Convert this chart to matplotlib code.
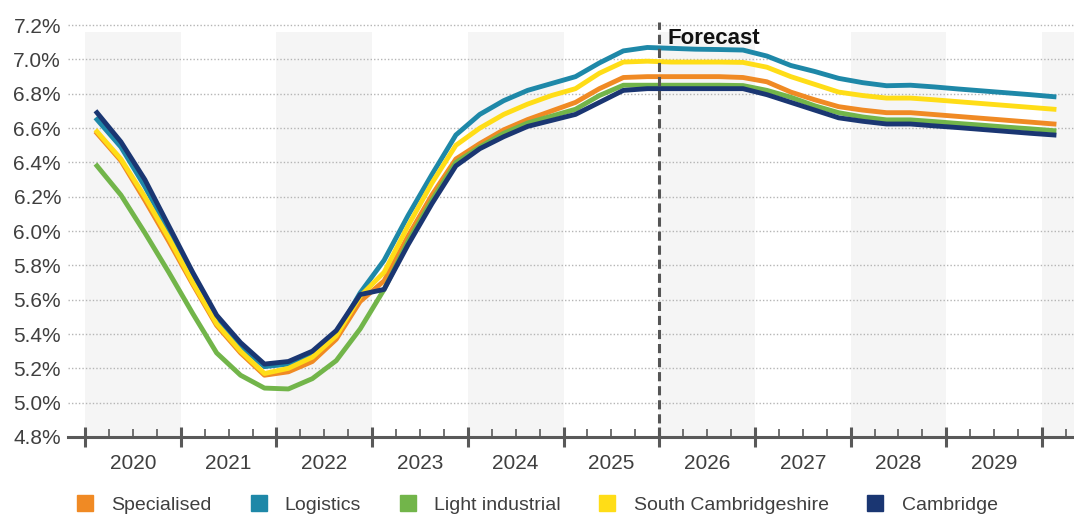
import numpy as np
import matplotlib
matplotlib.use('Agg')
import matplotlib.pyplot as plt
from matplotlib.lines import Line2D

plt.rcParams['font.family'] = ['Liberation Sans', 'DejaVu Sans']

# quarterly points, Q1 2020 .. Q1 2030 (plotted at mid-quarter)
quarters = 2020.125 + np.arange(41) / 4
years = [2020, 2021, 2022, 2023, 2024, 2025, 2026, 2027, 2028, 2029]
forecast_start = 2026

specialised = [6.57, 6.41, 6.18, 5.94, 5.69, 5.45, 5.29, 5.16, 5.18, 5.24, 5.37, 5.59, 5.71,
               5.97, 6.21, 6.42, 6.51, 6.59, 6.65, 6.70, 6.75, 6.83, 6.895, 6.90, 6.90, 6.90,
               6.90, 6.895, 6.87, 6.81, 6.765, 6.725, 6.705, 6.69, 6.69, 6.679, 6.668, 6.657,
               6.646, 6.635, 6.624]
logistics = [6.65, 6.49, 6.26, 6.00, 5.74, 5.49, 5.33, 5.21, 5.225, 5.28, 5.40, 5.64, 5.83,
             6.09, 6.33, 6.56, 6.68, 6.76, 6.82, 6.86, 6.90, 6.98, 7.05, 7.07, 7.065, 7.06,
             7.058, 7.055, 7.02, 6.965, 6.93, 6.89, 6.865, 6.847, 6.85, 6.84, 6.828, 6.817,
             6.806, 6.795, 6.783]
light_industrial = [6.38, 6.21, 5.99, 5.76, 5.52, 5.29, 5.16, 5.085, 5.08, 5.14, 5.245, 5.43, 5.66,
                    5.94, 6.18, 6.40, 6.49, 6.57, 6.63, 6.67, 6.71, 6.79, 6.85, 6.85, 6.85, 6.85,
                    6.85, 6.848, 6.82, 6.78, 6.73, 6.69, 6.665, 6.648, 6.648, 6.638, 6.627, 6.617,
                    6.606, 6.596, 6.585]
south_cambs = [6.58, 6.42, 6.20, 5.96, 5.70, 5.46, 5.30, 5.17, 5.20, 5.265, 5.39, 5.62, 5.76,
               6.03, 6.28, 6.50, 6.60, 6.68, 6.74, 6.79, 6.83, 6.92, 6.985, 6.99, 6.985, 6.985,
               6.985, 6.983, 6.955, 6.90, 6.855, 6.81, 6.79, 6.775, 6.775, 6.765, 6.754, 6.743,
               6.732, 6.721, 6.71]
cambridge = [6.69, 6.52, 6.30, 6.03, 5.76, 5.51, 5.35, 5.225, 5.24, 5.30, 5.42, 5.63, 5.66,
             5.92, 6.16, 6.38, 6.48, 6.55, 6.61, 6.645, 6.68, 6.75, 6.82, 6.83, 6.83, 6.83,
             6.83, 6.83, 6.795, 6.75, 6.705, 6.66, 6.64, 6.624, 6.624, 6.613, 6.603, 6.592,
             6.581, 6.57, 6.56]

names = ['Specialised', 'Logistics', 'Light industrial', 'South Cambridgeshire', 'Cambridge']
colors = ['#F08A24', '#1E88A8', '#72B54A', '#FFDD17', '#1A3672']
series = [specialised, logistics, light_industrial, south_cambs, cambridge]

txt = '#3f3f3f'

fig = plt.figure(figsize=(10.74, 5.14), dpi=100)
ax = fig.add_axes([68 / 1074, 77 / 514, 1 - 68 / 1074, 429 / 514])
ax.set_xlim(2019.822, 2030.334)
ax.set_ylim(4.8, 7.3)

# alternating year bands
band_top = (7.16 - 4.8) / (7.3 - 4.8)
for y0 in range(2020, 2031, 2):
    ax.axvspan(y0, y0 + 1, ymin=0, ymax=band_top, color='#f5f5f5', lw=0, zorder=0)

yticks = [4.8, 5.0, 5.2, 5.4, 5.6, 5.8, 6.0, 6.2, 6.4, 6.6, 6.8, 7.0, 7.2]
for yv in yticks[1:]:
    ax.axhline(yv, color='#b5b5b5', lw=1.0, ls=(0, (1, 1.5)), zorder=1)

for vals, c, n in zip(series, colors, names):
    ax.plot(quarters, vals, color=c, lw=3.5, label=n, zorder=3)

ax.plot([forecast_start, forecast_start], [4.8, 7.22], color='#555555', lw=2.2,
        ls=(0, (3, 1.6)), zorder=4, clip_on=False)
ax.text(forecast_start + 0.09, 7.125, 'Forecast', fontsize=16, fontweight='bold',
        color='#111111', ha='left', va='center', zorder=5)

ax.set_yticks(yticks)
ax.set_yticklabels([f'{v:.1f}%' for v in yticks], fontsize=15, color=txt)
ax.tick_params(axis='y', length=0, pad=5)

major = list(range(2020, 2031))
minor = [y + q / 4 for y in range(2020, 2031) for q in (1, 2, 3) if y + q / 4 < 2030.33]
minor_labels = [str(int(m)) if (m % 1 == 0.5 and int(m) in years) else '' for m in minor]
ax.set_xticks(major)
ax.set_xticklabels([''] * len(major))
ax.set_xticks(minor, minor_labels, minor=True)
ax.tick_params(axis='x', which='major', direction='inout', length=14, width=2.2, color='#595959')
ax.tick_params(axis='x', which='minor', direction='in', length=6, width=1.2, color='#595959',
               labelsize=15, labelcolor=txt, pad=12)

for s in ['top', 'right', 'left']:
    ax.spines[s].set_visible(False)
ax.spines['bottom'].set_color('#595959')
ax.spines['bottom'].set_linewidth(2.2)
ax.spines['bottom'].set_zorder(6)

handles = [Line2D([], [], marker='s', ls='none', markersize=12, color=c) for c in colors]
leg = fig.legend(handles, names, loc='center', bbox_to_anchor=(0.5, 0.018), ncol=5,
                 frameon=False, fontsize=14, handlelength=0.9, handletextpad=0.9,
                 columnspacing=1.95, borderpad=0)
for t in leg.get_texts():
    t.set_color(txt)

fig.savefig('out.png', dpi=100)
